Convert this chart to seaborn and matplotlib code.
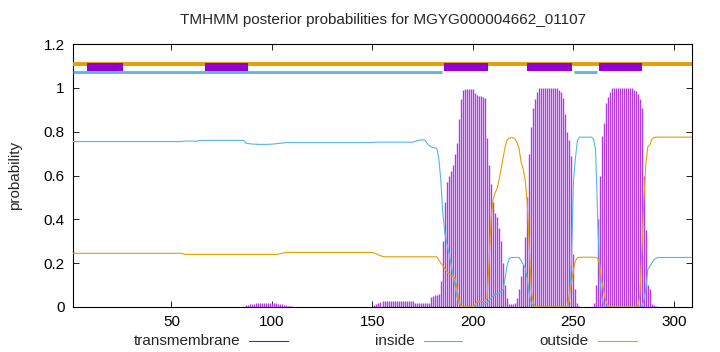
import numpy as np
import matplotlib
matplotlib.use("Agg")
import matplotlib.pyplot as plt
from matplotlib.lines import Line2D
from matplotlib.patches import Rectangle
import seaborn as sns

title = "TMHMM posterior probabilities for MGYG000004662_01107"
seq_len = 309
residues = np.arange(1, seq_len + 1)

# posterior probability of "outside" per residue
outside = ([0.245] * 55 + [0.242] + [0.240] * 46
           + [0.241, 0.243, 0.245, 0.247, 0.249, 0.25]
           + [0.249] * 42
           + [0.246, 0.242, 0.238, 0.234, 0.231, 0.229, 0.229]
           + [0.229] * 25
           + [0.215, 0.2, 0.19, 0.175, 0.161, 0.152, 0.145, 0.138, 0.132, 0.09, 0.03, 0.005]
           + [0.0] * 5 + [0.002, 0.01] + [0.025] * 5
           + [0.04, 0.2, 0.4, 0.49, 0.52, 0.54, 0.58, 0.63, 0.68, 0.73, 0.762, 0.77, 0.772,
              0.772, 0.765, 0.75, 0.72, 0.66, 0.63, 0.58, 0.48, 0.28, 0.08, 0.02, 0.003]
           + [0.0] * 16
           + [0.06, 0.11, 0.17, 0.21, 0.225] + [0.227] * 9
           + [0.222, 0.2, 0.12, 0.078, 0.03, 0.01]
           + [0.0] * 15
           + [0.05, 0.25, 0.48, 0.65, 0.73, 0.74, 0.765, 0.772, 0.775]
           + [0.775] * 18)

# posterior probability of "inside" per residue
inside = ([0.755] * 55 + [0.757] * 8 + [0.76] * 23
          + [0.748, 0.746, 0.745, 0.744, 0.743, 0.743, 0.742, 0.742, 0.742, 0.742, 0.742, 0.742,
             0.743, 0.743, 0.744, 0.745, 0.746, 0.747, 0.748, 0.749, 0.75, 0.75, 0.75, 0.75]
          + [0.75] * 40 + [0.752] * 20
          + [0.755, 0.758, 0.76, 0.762, 0.763, 0.762, 0.75, 0.738]
          + [0.732, 0.728, 0.726, 0.724]
          + [0.68, 0.58, 0.43, 0.34, 0.29, 0.25, 0.2, 0.15, 0.1, 0.05, 0.02, 0.005]
          + [0.0] * 8
          + [0.003, 0.006, 0.01, 0.015, 0.02, 0.03, 0.04, 0.05, 0.055, 0.06, 0.063, 0.07, 0.078,
             0.13, 0.19, 0.22, 0.225, 0.226, 0.226, 0.226, 0.226, 0.21, 0.195, 0.18, 0.13, 0.06,
             0.02, 0.005]
          + [0.0] * 17
          + [0.03, 0.2, 0.57, 0.68, 0.76] + [0.775] * 7
          + [0.765, 0.72, 0.44, 0.15, 0.05, 0.01]
          + [0.0] * 19
          + [0.03, 0.08, 0.17, 0.185, 0.2, 0.215, 0.222]
          + [0.226] * 18)

# posterior probability of "transmembrane" per residue
transmembrane = ([0.0] * 50 + [0.002] * 36
                 + [0.008, 0.011, 0.013, 0.014, 0.015, 0.016, 0.016, 0.017, 0.017, 0.018, 0.018,
                    0.018, 0.018, 0.017, 0.017, 0.016, 0.015, 0.014, 0.012, 0.01, 0.008, 0.006,
                    0.004, 0.003]
                 + [0.002] * 40
                 + [0.008, 0.015, 0.02, 0.024, 0.026] + [0.027] * 15 + [0.02] * 8
                 + [0.045, 0.05, 0.055, 0.055, 0.06]
                 + [0.12, 0.3, 0.48, 0.57, 0.6, 0.62, 0.65, 0.7, 0.75, 0.86, 0.95, 0.99]
                 + [0.996] * 5
                 + [0.975, 0.967, 0.965, 0.962, 0.96, 0.955]
                 + [0.77, 0.65, 0.56, 0.48, 0.43, 0.41, 0.36, 0.3, 0.2, 0.1, 0.04, 0.015, 0.013,
                    0.013, 0.02, 0.04, 0.08, 0.14, 0.19, 0.32, 0.5, 0.7, 0.82, 0.91, 0.95, 0.98]
                 + [0.998] * 10
                 + [0.99, 0.98, 0.955, 0.88, 0.8, 0.76, 0.69, 0.24, 0.08, 0.02, 0.005]
                 + [0.002] * 6
                 + [0.02, 0.1, 0.4, 0.6, 0.78, 0.84, 0.93, 0.96, 0.98]
                 + [0.999] * 11
                 + [0.99, 0.985, 0.97, 0.95, 0.91, 0.6, 0.35, 0.1, 0.08, 0.015, 0.01, 0.005]
                 + [0.0] * 18)

# predicted topology (start, end) in residues
tm_segments = [(7.8, 26), (66.5, 88), (185.5, 207.5), (227, 249.5), (262.5, 284)]
inside_segments = [(1, 184.5), (250.5, 261.5)]
outside_segments = [(1, 309)]

xticks = [50, 100, 150, 200, 250, 300]
yticks = [0, 0.2, 0.4, 0.6, 0.8, 1.0, 1.2]
ytick_labels = ["0", "0.2", "0.4", "0.6", "0.8", "1", "1.2"]
legend_labels = ["transmembrane", "inside", "outside"]

c_tm, c_in, c_out = "#9400d3", "#56b4e9", "#e69f00"
c_imp = "#b03ae6"

sns.set_style("ticks")
plt.rcParams["font.family"] = ["Liberation Sans", "DejaVu Sans"]

W, H = 720, 352
fig = plt.figure(figsize=(W / 100, H / 100), dpi=100)
ax = fig.add_axes([73 / W, 1 - 307 / H, (692 - 73) / W, (307 - 44) / H])

ax.vlines(residues, 0, transmembrane, color=c_imp, lw=1.0, antialiased=True, zorder=2)
sns.lineplot(x=residues, y=inside, ax=ax, color=c_in, lw=0.8, estimator=None, legend=False, zorder=3)
sns.lineplot(x=residues, y=outside, ax=ax, color=c_out, lw=0.8, estimator=None, legend=False, zorder=3)

for s, e in outside_segments:
    ax.hlines(1.11, s, e, color=c_out, lw=2.8, zorder=4)
for s, e in inside_segments:
    ax.hlines(1.071, s, e, color=c_in, lw=2.0, zorder=4)
for s, e in tm_segments:
    ax.add_patch(Rectangle((s, 1.075), e - s, 0.038, facecolor=c_tm, edgecolor="none", zorder=5))

ax.set_xlim(1, seq_len)
ax.set_ylim(0, 1.2)
ax.set_xticks(xticks)
ax.set_yticks(yticks)
ax.set_yticklabels(ytick_labels)
ax.set_xlabel("")
ax.set_ylabel("")
ax.tick_params(direction="in", top=True, right=True, length=4, width=0.6,
               labelsize=11, pad=6, colors="black")
ax.tick_params(axis="x", labeltop=False)
ax.tick_params(axis="y", labelright=False)
for sp in ax.spines.values():
    sp.set_visible(True)
    sp.set_linewidth(0.8)
    sp.set_color("black")

fig.text(383 / W, 1 - 20 / H, title, ha="center", va="center", fontsize=11)
fig.text(15 / W, 1 - 175 / H, "probability", rotation=90, ha="center", va="center", fontsize=11)

leg_y = 1 - 341 / H
text_right = [240, 415, 588]
line_span = [(249, 288), (424, 462), (598, 637)]
for lab, tr, (l0, l1), col in zip(legend_labels, text_right, line_span, [c_tm, c_in, c_out]):
    fig.text(tr / W, leg_y, lab, ha="right", va="center", fontsize=11)
    fig.add_artist(Line2D([l0 / W, l1 / W], [leg_y, leg_y], color=col, lw=0.8,
                          transform=fig.transFigure))

fig.savefig("out.png", dpi=100)
